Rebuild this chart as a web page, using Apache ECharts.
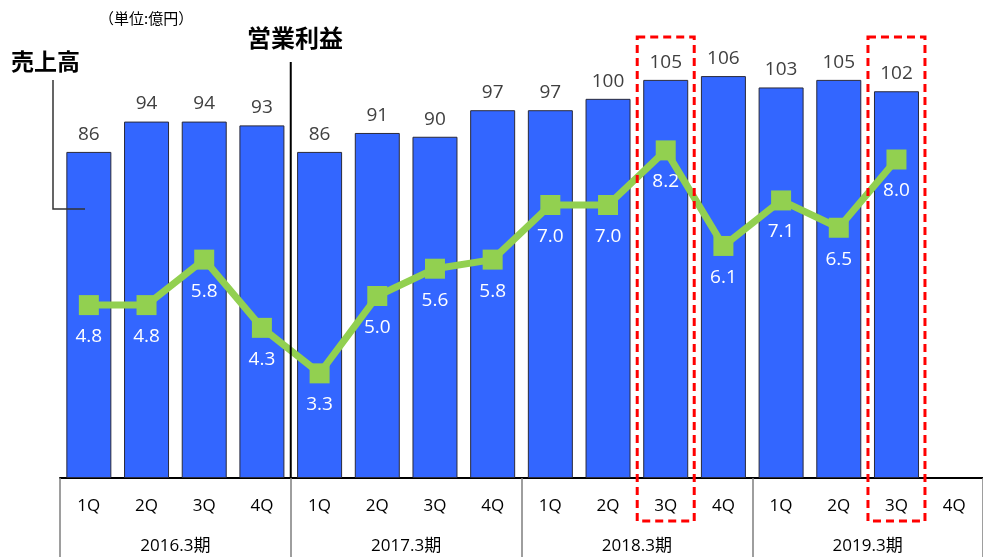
<!DOCTYPE html>
<html>
<head>
<meta charset="utf-8">
<script src="https://cdn.jsdelivr.net/npm/echarts@6/dist/echarts.min.js"></script>
<style>
  html, body { margin: 0; padding: 0; background: #fff; }
  #main { width: 983px; height: 557px; }
</style>
</head>
<body>
<div id="main"></div>
<script>
// 四半期ラベル
const quarters = ['1Q', '2Q', '3Q', '4Q', '1Q', '2Q', '3Q', '4Q', '1Q', '2Q', '3Q', '4Q', '1Q', '2Q', '3Q', '4Q']
const periods = ['2016.3期', '2017.3期', '2018.3期', '2019.3期']
// 売上高（億円）
const sales = [86, 94, 94, 93, 86, 91, 90, 97, 97, 100, 105, 106, 103, 105, 102, '-']
// 営業利益（億円）
const profit = [4.8, 4.8, 5.8, 4.3, 3.3, 5.0, 5.6, 5.8, 7.0, 7.0, 8.2, 6.1, 7.1, 6.5, 8.0, '-']
// 赤枠で囲む四半期
const highlighted = [10, 14]

const font = '"Open Sans", "Noto Sans CJK JP", sans-serif'
const chartDom = document.getElementById('main')
const myChart = echarts.init(chartDom)

const option = {
  animation: false,
  grid: { left: 60, top: 23, width: 932, bottom: 79 },
  xAxis: [
    {
      type: 'category',
      data: quarters,
      axisLine: { lineStyle: { color: '#000', width: 2 } },
      axisTick: { show: false },
      axisLabel: { color: '#000', fontSize: 17, fontFamily: font, margin: 20, interval: 0 }
    },
    {
      type: 'category',
      data: periods,
      position: 'bottom',
      axisLine: { show: false },
      axisTick: { show: true, length: 80, lineStyle: { color: '#7f7f7f', width: 1.5 } },
      axisLabel: { color: '#000', fontSize: 17, fontFamily: font, margin: 60 }
    }
  ],
  yAxis: [
    { type: 'value', min: 0, max: 120, show: false },
    { type: 'value', min: 1, max: 11, show: false }
  ],
  series: [
    {
      name: '売上高',
      type: 'bar',
      data: sales,
      barWidth: 45,
      itemStyle: { color: '#3366ff', borderColor: '#2a2a3a', borderWidth: 1 },
      label: {
        show: true,
        position: 'top',
        distance: 8,
        color: '#404040',
        fontSize: 19,
        fontFamily: font
      }
    },
    {
      name: '営業利益',
      type: 'line',
      yAxisIndex: 1,
      data: profit,
      symbol: 'rect',
      symbolSize: 20,
      lineStyle: { color: '#92d050', width: 7 },
      itemStyle: { color: '#92d050' },
      label: {
        show: true,
        position: 'bottom',
        distance: 12,
        color: '#fff',
        fontSize: 19,
        fontFamily: font,
        formatter: (p) => p.value.toFixed(1)
      },
      z: 5
    }
  ]
}
myChart.setOption(option)

// 注記（赤枠・引き出し線・見出し）
const boundary = (i) => {
  const a = myChart.convertToPixel({ xAxisIndex: 0 }, i)
  const b = myChart.convertToPixel({ xAxisIndex: 0 }, i + 1)
  return (a + b) / 2
}
const graphics = []
highlighted.forEach((i) => {
  const cx = myChart.convertToPixel({ xAxisIndex: 0 }, i)
  graphics.push({
    type: 'rect',
    shape: { x: cx - 28.5, y: 37, width: 57, height: 484 },
    style: { fill: 'none', stroke: '#ff0000', lineWidth: 3, lineDash: [8, 5] },
    z: 20
  })
})
const sep = boundary(3)
graphics.push(
  {
    type: 'line',
    shape: { x1: sep, y1: 62, x2: sep, y2: 477 },
    style: { stroke: '#000', lineWidth: 2 },
    z: 10
  },
  {
    type: 'polyline',
    shape: { points: [[53, 80], [53, 209], [85, 209]] },
    style: { stroke: '#333', lineWidth: 1.5, fill: null },
    z: 10
  },
  {
    type: 'text',
    x: 11, y: 61,
    style: { text: '売上高', fill: '#000', font: 'bold 23px "Noto Sans CJK JP"', verticalAlign: 'middle' }
  },
  {
    type: 'text',
    x: 247, y: 38,
    style: { text: '営業利益', fill: '#000', font: 'bold 24px "Noto Sans CJK JP"', verticalAlign: 'middle' }
  },
  {
    type: 'text',
    x: 99, y: 18,
    style: { text: '（単位:億円）', fill: '#000', font: '15px "Noto Sans CJK JP"', verticalAlign: 'middle' }
  }
)
myChart.setOption({ graphic: graphics })
</script>
</body>
</html>
